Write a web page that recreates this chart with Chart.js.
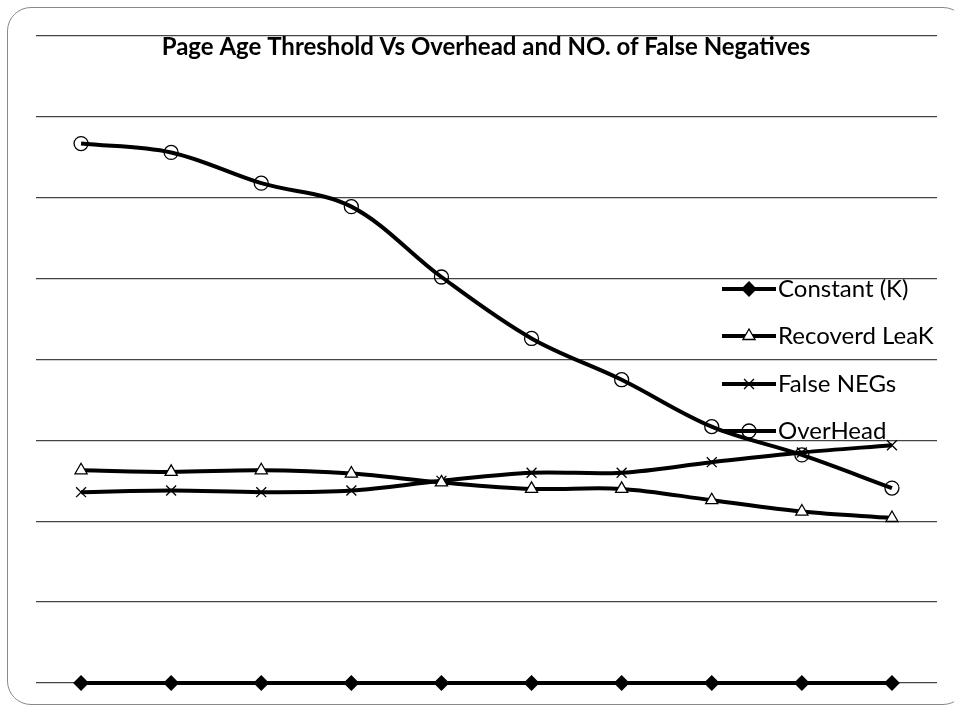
<!DOCTYPE html>
<html>
<head>
<meta charset="utf-8">
<script src="https://cdn.jsdelivr.net/npm/chart.js@4"></script>
<style>
  html, body { margin: 0; padding: 0; background: #fff; }
  #wrap { position: relative; width: 954px; height: 709px; }
  #frame { position: absolute; left: 7px; top: 7px; width: 960px; height: 698px;
           border: 1.5px solid #8a8a8a; border-radius: 24px; box-sizing: border-box; }
</style>
</head>
<body>
<div id="wrap">
  <div id="frame"></div>
  <canvas id="canvas" width="954" height="709"></canvas>
</div>
<script>
// data
let labels = ['1', '2', '3', '4', '5', '6', '7', '8', '9', '10'];
let constantK = [0, 0, 0, 0, 0, 0, 0, 0, 0, 0];
let recoverdLeak = [2.63, 2.61, 2.63, 2.59, 2.48, 2.40, 2.40, 2.26, 2.12, 2.04];
let falseNegs = [2.36, 2.38, 2.36, 2.38, 2.50, 2.60, 2.60, 2.73, 2.85, 2.94];
let overHead = [6.67, 6.56, 6.18, 5.89, 5.02, 4.26, 3.75, 3.17, 2.82, 2.41];
let yTicks = [0, 1, 2, 3, 4, 5, 6, 7, 8];

let titleText = 'Page Age Threshold Vs Overhead and NO. of False Negatives';

function series(label, data, style, fill) {
    return {
        label: label,
        data: data,
        borderColor: '#000',
        borderWidth: 4,
        tension: 0.35,
        pointStyle: style,
        pointRadius: 7,
        pointHoverRadius: 7,
        pointBorderColor: '#000',
        pointBorderWidth: 1.3,
        pointBackgroundColor: fill,
        clip: false
    };
}

// title + legend drawn on top, like the excel chart
let overlay = {
    id: 'overlay',
    afterDraw(chart) {
        let c = chart.ctx;
        c.save();
        c.fillStyle = '#000';
        c.font = 'bold 24px Lato';
        c.textAlign = 'center';
        c.textBaseline = 'middle';
        c.fillText(titleText, 486, 47);

        c.font = '24px Lato';
        c.textAlign = 'left';
        let rows = [289, 336, 384, 431];
        chart.data.datasets.forEach((ds, i) => {
            let y = rows[i];
            c.strokeStyle = '#000';
            c.lineWidth = 4;
            c.beginPath();
            c.moveTo(722, y);
            c.lineTo(776, y);
            c.stroke();
            c.fillStyle = ds.pointBackgroundColor;
            c.lineWidth = 1.3;
            Chart.helpers.drawPoint(c, { pointStyle: ds.pointStyle, radius: 7, borderWidth: 1.3 }, 749, y);
            c.fillStyle = '#000';
            c.fillText(ds.label, 778, y);
        });
        c.restore();
    }
};

var ctx = document.getElementById('canvas').getContext('2d');
var myChart = new Chart(ctx, {
    type: 'line',
    data: {
        labels: labels,
        datasets: [
            series('Constant (K)', constantK, 'rectRot', '#000'),
            series('Recoverd LeaK', recoverdLeak, 'triangle', '#fff'),
            series('False NEGs', falseNegs, 'crossRot', '#000'),
            series('OverHead', overHead, 'circle', 'rgba(255,255,255,0)')
        ]
    },
    options: {
        responsive: false,
        animation: false,
        layout: { padding: { left: 36, right: 17, top: 36, bottom: 26 } },
        plugins: {
            legend: { display: false },
            title: { display: false },
            tooltip: { enabled: false }
        },
        scales: {
            x: {
                display: false,
                offset: true
            },
            y: {
                min: 0,
                max: 8,
                afterBuildTicks: s => { s.ticks = yTicks.map(v => ({ value: v })); },
                ticks: { display: false },
                border: { display: false },
                grid: { color: '#444', lineWidth: 1.3, drawTicks: false },
                afterFit: s => { s.width = 0; }
            }
        }
    },
    plugins: [overlay]
});
</script>
</body>
</html>
